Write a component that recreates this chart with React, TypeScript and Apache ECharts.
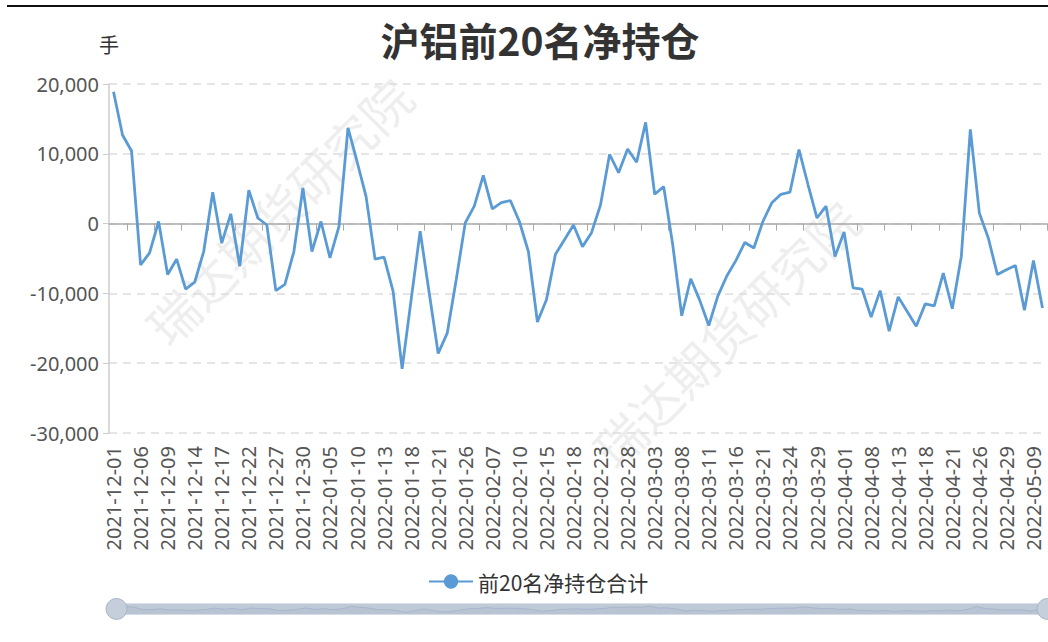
import React, { useEffect, useRef } from 'react';
import * as echarts from 'echarts';

const dates: string[] = [
  '2021-12-01','2021-12-02','2021-12-03','2021-12-06','2021-12-07','2021-12-08','2021-12-09','2021-12-10',
  '2021-12-13','2021-12-14','2021-12-15','2021-12-16','2021-12-17','2021-12-20','2021-12-21','2021-12-22',
  '2021-12-23','2021-12-24','2021-12-27','2021-12-28','2021-12-29','2021-12-30','2021-12-31',
  '2022-01-04','2022-01-05','2022-01-06','2022-01-07','2022-01-10','2022-01-11','2022-01-12','2022-01-13',
  '2022-01-14','2022-01-17','2022-01-18','2022-01-19','2022-01-20','2022-01-21','2022-01-24','2022-01-25',
  '2022-01-26','2022-01-27','2022-01-28',
  '2022-02-07','2022-02-08','2022-02-09','2022-02-10','2022-02-11','2022-02-14','2022-02-15','2022-02-16',
  '2022-02-17','2022-02-18','2022-02-21','2022-02-22','2022-02-23','2022-02-24','2022-02-25','2022-02-28',
  '2022-03-01','2022-03-02','2022-03-03','2022-03-04','2022-03-07','2022-03-08','2022-03-09','2022-03-10',
  '2022-03-11','2022-03-14','2022-03-15','2022-03-16','2022-03-17','2022-03-18','2022-03-21','2022-03-22',
  '2022-03-23','2022-03-24','2022-03-25','2022-03-28','2022-03-29','2022-03-30','2022-03-31',
  '2022-04-01','2022-04-06','2022-04-07','2022-04-08','2022-04-11','2022-04-12','2022-04-13','2022-04-14',
  '2022-04-15','2022-04-18','2022-04-19','2022-04-20','2022-04-21','2022-04-22','2022-04-25','2022-04-26',
  '2022-04-27','2022-04-28','2022-04-29',
  '2022-05-05','2022-05-06','2022-05-09','2022-05-10'
];

const netPosition: number[] = [
  18900, 12700, 10400, -5900, -4200, 300, -7300, -5100, -9400, -8400,
  -4000, 4500, -2800, 1400, -6100, 4800, 800, -200, -9600, -8700,
  -4000, 5100, -4000, 300, -4900, -400, 13700, 8900, 3900, -5100,
  -4800, -9700, -20800, -10900, -1100, -9900, -18600, -15700, -8000, 100,
  2500, 6900, 2100, 3000, 3300, 300, -4000, -14100, -10900, -4400,
  -2300, -200, -3300, -1300, 2700, 9900, 7300, 10700, 8800, 14500,
  4200, 5300, -3000, -13200, -7900, -11000, -14600, -10400, -7500, -5300,
  -2700, -3500, 300, 3000, 4200, 4500, 10600, 5600, 800, 2500,
  -4700, -1200, -9200, -9400, -13400, -9600, -15400, -10500, -12600, -14700,
  -11500, -11800, -7100, -12200, -4700, 13500, 1500, -2100, -7300, -6600,
  -6000, -12400, -5300, -12100
];

const titleText = '沪铝前20名净持仓';
const seriesName = '前20名净持仓合计';
const unitName = '手';
const watermark = '瑞达期货研究院';
const yMin = -30000;
const yMax = 20000;
const yInterval = 10000;

const FONT = '"Noto Sans", "Noto Sans CJK SC", sans-serif';

export default function App() {
  const ref = useRef<HTMLDivElement>(null);
  useEffect(() => {
    const chart = echarts.init(ref.current!, null, { renderer: 'svg' });
    const wmStyle = {
      text: watermark,
      fontSize: 50,
      fontFamily: '"Noto Sans CJK SC", sans-serif',
      fill: 'rgba(170,170,170,0.2)',
      align: 'center',
      verticalAlign: 'middle',
      textAlign: 'center',
      textVerticalAlign: 'middle'
    };
    chart.setOption({
      animation: false,
      textStyle: { fontFamily: FONT },
      title: {
        text: titleText,
        left: 535,
        textAlign: 'center',
        top: 14,
        textStyle: { fontSize: 39, fontWeight: 'bold', color: '#333', fontFamily: '"Noto Sans CJK SC", sans-serif' }
      },
      graphic: [
        { type: 'text', x: 278, y: 210, rotation: Math.PI / 4, silent: true, z: 0, style: wmStyle },
        { type: 'text', x: 725, y: 333, rotation: Math.PI / 4, silent: true, z: 0, style: wmStyle }
      ],
      legend: {
        left: 423,
        top: 566,
        itemWidth: 44,
        itemHeight: 18,
        itemGap: 10,
        textStyle: { fontSize: 21, color: '#333', fontFamily: '"Noto Sans CJK SC", sans-serif' },
        data: [seriesName]
      },
      grid: { left: 109, right: 1, top: 84, bottom: 209, containLabel: false },
      xAxis: [
        {
          type: 'category',
          data: dates,
          boundaryGap: true,
          position: 'bottom',
          axisLine: { show: false, onZero: false },
          axisTick: { show: false },
          axisLabel: { interval: 2, rotate: 90, fontSize: 20, color: '#555', margin: 13 },
          splitLine: { show: false }
        },
        {
          type: 'category',
          data: dates,
          boundaryGap: true,
          position: 'bottom',
          axisLine: { show: true, onZero: true, lineStyle: { color: '#aaa', width: 1.5 } },
          axisTick: { show: true, length: 7, interval: (i: number) => i % 3 === 2, lineStyle: { color: '#aaa' } },
          axisLabel: { show: false },
          splitLine: { show: false }
        }
      ],
      yAxis: {
        type: 'value',
        min: yMin,
        max: yMax,
        interval: yInterval,
        name: unitName,
        nameGap: 30,
        nameTextStyle: { fontSize: 20, color: '#333', fontFamily: '"Noto Sans CJK SC", sans-serif' },
        axisLine: { show: true, lineStyle: { color: '#ccc', width: 1.5 } },
        axisTick: { show: true, length: 6, lineStyle: { color: '#ccc' } },
        axisLabel: {
          fontSize: 20,
          color: '#555',
          margin: 10,
          formatter: (v: number) => v.toLocaleString('en-US')
        },
        splitLine: { show: true, lineStyle: { color: '#ddd', type: [8, 6], width: 1.5 } }
      },
      dataZoom: [
        {
          type: 'slider',
          xAxisIndex: [0, 1],
          start: 0,
          end: 100,
          left: 113,
          right: 2,
          top: 603,
          height: 11,
          showDetail: false,
          brushSelect: false,
          moveHandleSize: 0,
          handleIcon: 'circle',
          handleSize: '190%',
          handleStyle: { color: '#c5cfdc', borderColor: '#a9b6c8', borderWidth: 1 },
          borderColor: 'transparent',
          backgroundColor: '#dfe5ec',
          fillerColor: 'rgba(170,184,204,0.6)',
          dataBackground: {
            lineStyle: { color: '#9aa8bb', width: 0.8 },
            areaStyle: { color: '#c3ccd9', opacity: 0.6 }
          },
          selectedDataBackground: {
            lineStyle: { color: '#9aa8bb', width: 0.8 },
            areaStyle: { color: '#c3ccd9', opacity: 0.6 }
          }
        }
      ],
      series: [
        {
          name: seriesName,
          type: 'line',
          xAxisIndex: 0,
          data: netPosition,
          symbol: 'circle',
          symbolSize: 8,
          showSymbol: false,
          itemStyle: { color: '#5b9bd5' },
          lineStyle: { color: '#5b9bd5', width: 2.8 },
          z: 3
        }
      ]
    });
    return () => chart.dispose();
  }, []);
  return (
    <div style={{ position: 'absolute', left: 0, top: 0, width: 1048, height: 642, background: '#fff', overflow: 'hidden' }}>
      <div ref={ref} style={{ position: 'absolute', left: 0, top: 0, width: 1048, height: 642 }} />
      <div style={{ position: 'absolute', left: 7, top: 5, width: 1041, height: 2, background: '#111' }} />
    </div>
  );
}
